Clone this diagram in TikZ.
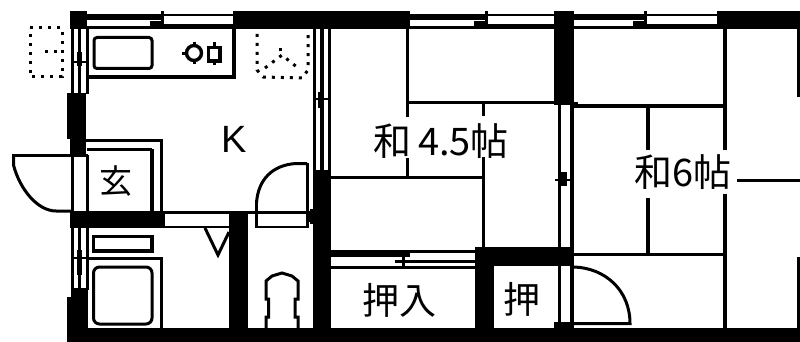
\documentclass[tikz,border=0pt]{standalone}
\usepackage{fontspec}
\setmainfont{Liberation Sans}
\newfontfamily\cjk{Noto Sans CJK JP}
\tikzset{
 wall/.style={fill=black,draw=none},
 ln/.style={draw=black,line width=3pt,line cap=butt,line join=miter},
 thin ln/.style={draw=black,line width=2.4pt},
 dots/.style={draw=black,line width=3pt,dash pattern=on 3pt off 6pt},
 label/.style={inner sep=0pt,text=black,font=\cjk}
}
\begin{document}
\begin{tikzpicture}[x=1pt,y=-1pt]
\useasboundingbox (0,0) rectangle (800,342);
% top walls
\fill[wall] (70,11) rectangle (87,29);
\fill[wall] (233,11) rectangle (410,29);
\fill[wall] (554,11) rectangle (574,105);
\fill[wall] (717,11) rectangle (800,29);
% top windows
\foreach \a/\b/\c in {87/163/233,410/487/555,574/646/717}{
 \fill[wall] (\a,14) rectangle (\c,16.5);
 \fill[wall] (\a,14) rectangle (\b,20);
 \fill[wall] (\a,26.5) rectangle (\c,29);
 \fill[wall] ({\b-13},24) rectangle (\c,29);
 \fill[wall] ({\b-13},21) rectangle (\b+1,24);
 \fill[wall] ({\b-2.5},11) rectangle ({\b+0.5},24);
}
% left walls
\foreach \x in {72,79,87}{\draw[ln] (\x,29) -- (\x,94);}
\fill[wall] (76.5,52) rectangle (82,66);
\draw[thin ln] (71,62) -- (88,62);
\fill[wall] (67,93) rectangle (86,139);
\fill[wall] (70,139) rectangle (86,155);
\draw[ln] (72,155) -- (72,211);
\draw[ln] (87,155) -- (87,211);
\draw[ln] (12,155) -- (88,155);
\draw[ln] (13.5,154) -- (13.5,165) .. controls (20,190) and (38,211) .. (56,211) -- (71,211);
\fill[wall] (70,211) rectangle (165,228);
\foreach \x in {72,79,87}{\draw[ln] (\x,228) -- (\x,290);}
\fill[wall] (76.5,250) rectangle (82,275);
\draw[thin ln] (71,258) -- (88,258);
\fill[wall] (71,288) rectangle (88,300);
\fill[wall] (67,297) rectangle (88,330);
% bottom wall
\fill[wall] (67,328) rectangle (800,342);
% kitchen counter
\draw[ln] (87,27.5) -- (235,27.5);
\draw[line width=3.6pt] (87,77) -- (235.5,77);
\draw[line width=3.2pt] (234,27) -- (234,78);
\draw[line width=3pt,rounded corners=3pt] (94,37.5) rectangle (152,68.5);
\draw[line width=3.4pt] (194,53) circle[radius=7.5];
\draw[line width=3.4pt] (208.5,47.5) rectangle (220,61);
\draw[line width=3pt] (182,53.5) -- (187,53.5);
\draw[line width=3pt] (194,42) -- (194,46) (194,60) -- (194,64) (214,42) -- (214,47) (214,61) -- (214,65);
% dotted fixtures
\draw[dots] (30,28) -- (62,28) -- (62,77) -- (30,77) -- cycle;
\draw[dots] (45,52) -- (62,52);
\draw[dots] (257,34) -- (257,70) -- (263,77) -- (302,78) -- (308,70) -- (308,33);
\draw[dots] (265,68) -- (282,55) -- (298,68);
\draw[dots] (279,50) -- (286,50);
% genkan
\draw[ln] (86,140.5) -- (161,140.5) -- (161,211);
\draw[line width=3pt] (87,149.5) -- (152,149.5);
\draw[line width=3.4pt] (152,149) -- (152,211);
% wall pieces
\fill[wall] (165,225.5) rectangle (232,228);
\fill[wall] (165,211) rectangle (232,213.5);
\fill[wall] (229,211) rectangle (248,330);
\fill[wall] (248,211) rectangle (308,213.5);
\fill[wall] (255,225.5) rectangle (309,228);
\fill[wall] (255,200) rectangle (258,228);
\fill[wall] (306,163) rectangle (309,228);
\fill[wall] (308,211) rectangle (313,222);
% K door
\draw[ln] (256.5,203) .. controls (258,180) and (272,165) .. (296,163.5) -- (307,163.5);
% V
\draw[ln] (205,228) -- (218,255) -- (229,232);
% washer
\draw[ln] (88,258.5) -- (161,258.5) -- (161,329);
\draw[line width=3.2pt] (93.5,236.5) rectangle (152,251);
\draw[line width=3pt,rounded corners=6pt] (93.5,267) rectangle (152,324);
% toilet
\draw[ln] (266,328) -- (266,317) -- (268.5,317) -- (268.5,299) -- (266,299) -- (266,281) -- (272,276) -- (282,273) -- (292,276) -- (298,281) -- (298,299) -- (295,299) -- (295,317) -- (298,317) -- (298,328);
% wall kitchen / room
\foreach \a/\b in {313/316,320/324,328/331}{\fill[wall] (\a,29) rectangle (\b,172);}
\draw[thin ln] (313,99) -- (331,99);
\fill[wall] (318,92) rectangle (324,108);
\fill[wall] (313,170) rectangle (331,330);
\fill[wall] (310,209) rectangle (314,224);
% room 4.5
\draw[ln] (407,28) -- (407,117);
\draw[ln] (407,158) -- (407,177);
\draw[ln] (331,177) -- (484,177);
\draw[line width=3.4pt] (407,102.5) -- (555,102.5);
\draw[ln] (483,103) -- (483,116);
\draw[ln] (483,157) -- (483,249);
% closet
\fill[wall] (331,250) rectangle (410,257);
\fill[wall] (331,250) rectangle (476,252.5);
\fill[wall] (395,260) rectangle (476,263);
\fill[wall] (331,266) rectangle (476,268.5);
\fill[wall] (401.5,250) rectangle (405,266);
\fill[wall] (475,247) rectangle (494,330);
\fill[wall] (475,247) rectangle (574,266);
\node[label,font=\cjk\fontsize{37}{37}\selectfont] (oshiire) at (399,300) {押入};
\node[label,font=\cjk\fontsize{37}{37}\selectfont] (oshi) at (522,299) {押};
% wall 4.5/6
\draw[line width=3.2pt] (559.5,105) -- (559.5,250);
\fill[wall] (569.5,105) rectangle (574,250);
\fill[wall] (561,172) rectangle (567,186);
\draw[thin ln] (555,180) -- (574,180);
\draw[thin ln] (550,103) -- (554,103);
\draw[thin ln] (574,103) -- (578,103);
\draw[line width=3.2pt] (559.5,266) -- (559.5,325);
\fill[wall] (569.5,266) rectangle (574,325);
\fill[wall] (554,322) rectangle (574,330);
% room 6
\draw[line width=3.6pt] (574,106) -- (726,106);
\draw[line width=3.6pt] (574,254.5) -- (726,254.5);
\draw[line width=3.2pt] (648,106) -- (648,150);
\draw[line width=3.2pt] (648,198) -- (648,255);
\draw[line width=3.2pt] (725,28) -- (725,150);
\draw[line width=3.2pt] (725,194) -- (725,329);
\draw[ln] (737,180.5) -- (800,180.5);
\fill[wall] (797,29) rectangle (800,97);
\fill[wall] (797,257) rectangle (800,329);
% closet door
\draw[line width=3pt] (574,267) .. controls (605,268) and (630,290) .. (630,323.5) -- (574,323.5);
% labels
\node[label,font=\fontspec{Liberation Sans}\fontsize{38}{38}\selectfont] (k) at (234,139) {K};
\node[label,font=\cjk\fontsize{33}{33}\selectfont] (genkan) at (116,181) {玄};
\node[label,font=\cjk\fontsize{38}{38}\selectfont] (room45) at (441,141) {和\hspace{7pt}4.5帖};
\node[label,font=\cjk\fontsize{38}{38}\selectfont] (room6) at (683,172) {和6帖};
\end{tikzpicture}
\end{document}
